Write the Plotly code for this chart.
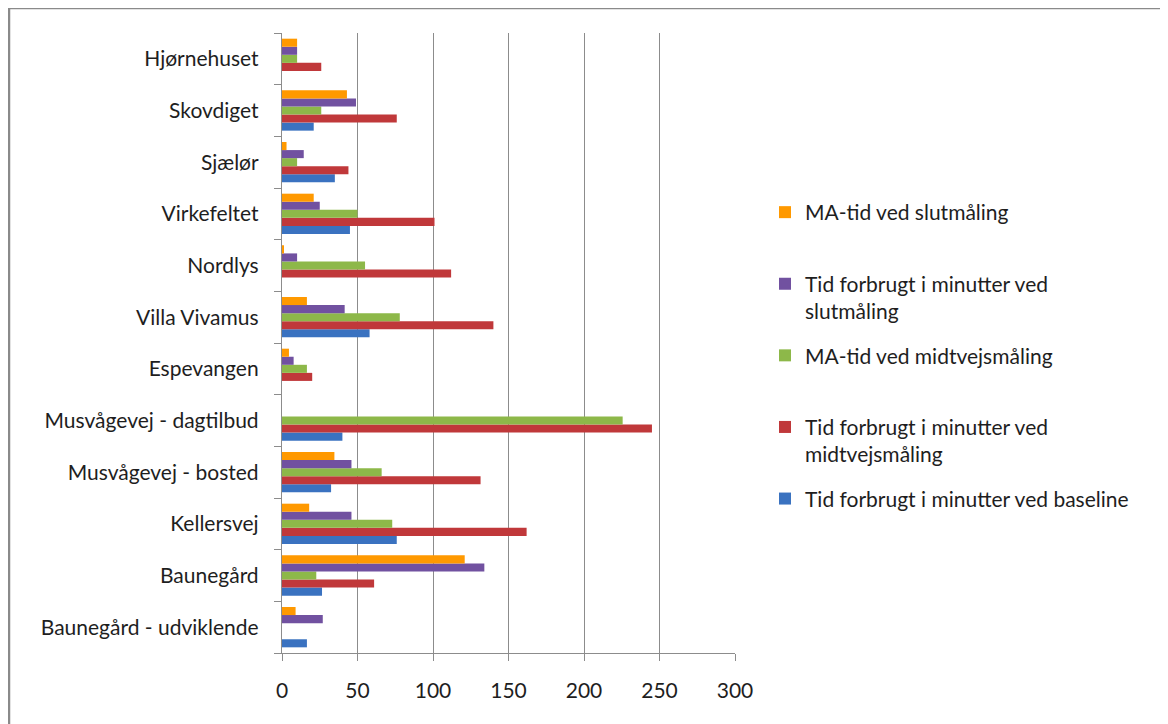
import plotly.graph_objects as go

categories = ["Baunegård - udviklende", "Baunegård", "Kellersvej", "Musvågevej - bosted",
              "Musvågevej - dagtilbud", "Espevangen", "Villa Vivamus", "Nordlys",
              "Virkefeltet", "Sjælør", "Skovdiget", "Hjørnehuset"]

baseline = [16.5, 26.5, 76, 32.5, 40, 0, 58, 0, 45, 35, 21, 0]
tid_midtvej = [0, 61, 162, 131.5, 245, 20, 140, 112, 101, 44, 76, 26]
ma_midtvej = [0, 22.7, 73, 66, 225.6, 16.5, 78, 55, 50, 10, 26, 10]
tid_slut = [27, 134, 46, 46, 0, 7.7, 41.5, 10, 25, 14.4, 49, 10]
ma_slut = [9, 121, 18, 34.7, 0, 4.6, 16.5, 1, 21, 3, 43, 10]

series_names = ["Tid forbrugt i minutter ved baseline<br> ",
                "Tid forbrugt i minutter ved<br>midtvejsmåling",
                "MA-tid ved midtvejsmåling<br> ",
                "Tid forbrugt i minutter ved<br>slutmåling",
                "MA-tid ved slutmåling<br> "]
series_values = [baseline, tid_midtvej, ma_midtvej, tid_slut, ma_slut]
colors = ["#3A72C0", "#C0383A", "#8DB849", "#7151A0", "#FF9900"]

FONT = "Lato"
FS = 21
TXT = "#1E1E1E"

fig = go.Figure()
n = len(series_names)
for i, (name, vals, col) in enumerate(zip(series_names, series_values, colors)):
    fig.add_trace(go.Bar(
        y=categories, x=vals, name=name, orientation="h",
        legendgroup=f"g{i}", legendrank=n - i,
        marker=dict(color=col, line=dict(width=0)),
    ))

# page is offset by the 8px body margin
OFF = 8
W, H = 1160, 716
L, T = 282 - OFF, 33 - OFF
R = W - (735 - OFF)
B = H - (653 - OFF)
pw = W - L - R
ph = H - T - B

def sx(px):  # screen px -> paper x
    return (px - OFF - L) / pw

def sy(py):  # screen px -> paper y
    return (H - B - (py - OFF)) / ph

fig.update_layout(
    width=W, height=H,
    margin=dict(l=L, r=R, t=T, b=B, pad=0),
    barmode="group", bargap=0.22, bargroupgap=0,
    plot_bgcolor="white", paper_bgcolor="white",
    font=dict(family=FONT, size=FS, color=TXT),
    showlegend=True,
    legend=dict(
        traceorder="grouped", valign="top",
        x=sx(765), xanchor="left",
        y=sy(192), yanchor="top",
        font=dict(family=FONT, size=FS, color=TXT),
        tracegroupgap=14,
        bgcolor="rgba(0,0,0,0)",
    ),
    xaxis=dict(
        range=[0, 300], dtick=50, tick0=0,
        showgrid=True, gridcolor="#8C8C8C", gridwidth=1.3,
        showline=True, linecolor="#8C8C8C", linewidth=1.3,
        ticks="outside", ticklen=7, tickcolor="#8C8C8C", tickwidth=1.3,
        zeroline=False, fixedrange=True, ticklabelstandoff=12,
        tickfont=dict(family=FONT, size=FS, color=TXT),
    ),
    yaxis=dict(
        type="category", tickson="boundaries",
        showline=True, linecolor="#8C8C8C", linewidth=1.3,
        ticks="outside", ticklen=7, tickcolor="#8C8C8C", tickwidth=1.3,
        showgrid=False, fixedrange=True, ticklabelstandoff=18,
        tickfont=dict(family=FONT, size=FS, color=TXT),
    ),
    shapes=[dict(
        type="rect", xref="paper", yref="paper",
        x0=sx(9), x1=sx(1220),
        y0=sy(780), y1=sy(8),
        line=dict(color="#8A8A8A", width=2.5), fillcolor="rgba(0,0,0,0)", layer="below",
    )],
)

fig.write_html("out.html")
